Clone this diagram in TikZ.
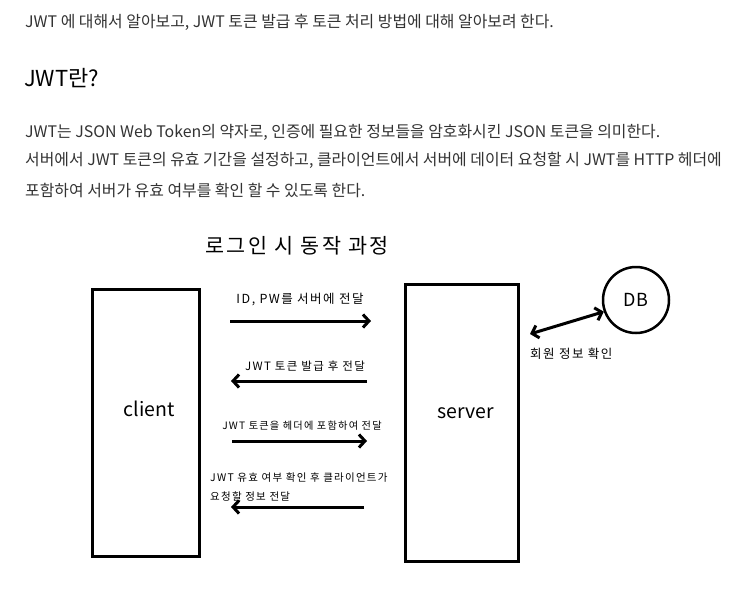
\documentclass[tikz,border=0pt]{standalone}
\usepackage{fontspec}
\setmainfont{Noto Sans CJK KR}
\newfontfamily\schemafont[LetterSpace=12]{Noto Sans CJK KR}
\usetikzlibrary{arrows.meta,positioning}
\definecolor{TxtGray}{HTML}{333333}

\begin{document}
\begin{tikzpicture}[x=1pt,y=-1pt,
  para/.style={anchor=west,inner sep=0pt,text=TxtGray,font=\fontsize{15.9}{18}\selectfont},
  box/.style={draw=black,line width=3pt},
  lbl/.style={inner sep=0pt,font=\schemafont\fontsize{12.5}{19}\selectfont},
  fleche/.style={-{Straight Barb[length=6pt,width=13pt,line width=3pt]},line width=3pt}]
  \useasboundingbox[fill=white] (0,0) rectangle (747,595);
  % texte du haut
  \node[para] (l1) at (25,22) {JWT 에 대해서 알아보고, JWT 토큰 발급 후 토큰 처리 방법에 대해 알아보려 한다.};
  \node[para,font=\fontsize{22}{24}\selectfont,text=black] (titre) at (24,78) {JWT란?};
  \node[para] (p1) at (25,132) {JWT는 JSON Web Token의 약자로, 인증에 필요한 정보들을 암호화시킨 JSON 토큰을 의미한다.};
  \node[para] (p2) at (25,160) {서버에서 JWT 토큰의 유효 기간을 설정하고, 클라이언트에서 서버에 데이터 요청할 시 JWT를 HTTP 헤더에};
  \node[para] (p3) at (25,190) {포함하여 서버가 유효 여부를 확인 할 수 있도록 한다.};
  % schema
  \node[inner sep=0pt,font=\schemafont\fontsize{20.7}{24}\selectfont] (schema) at (297,246) {로그인 시 동작 과정};
  \draw[box] (92,289) rectangle (199,556);
  \draw[box] (405,284) rectangle (518,561);
  \node[inner sep=0pt,font=\fontsize{19.5}{22}\selectfont] (client) at (149,409) {client};
  \node[inner sep=0pt,font=\fontsize{19.5}{22}\selectfont] (server) at (466,413) {server};
  \node[draw,line width=2.5pt,circle,minimum size=66pt,font=\fontsize{18}{22}\selectfont] (db) at (636,300) {DB};
  % fleches
  \coordinate (a1) at (230,321); \coordinate (b1) at (371,321);
  \coordinate (a2) at (367,381); \coordinate (b2) at (231,381);
  \coordinate (a3) at (232,441); \coordinate (b3) at (367,441);
  \coordinate (a4) at (364,507); \coordinate (b4) at (231,507);
  \coordinate (dbx) at (530,334);
  \draw[fleche] (a1) -- (b1);
  \draw[fleche] (a2) -- (b2);
  \draw[fleche] (a3) -- (b3);
  \draw[fleche] (a4) -- (b4);
  \draw[line width=3pt,{Straight Barb[length=6pt,width=13pt,line width=3pt]}-{Straight Barb[length=6pt,width=13pt,line width=3pt]}] (dbx) -- (db.200);
  \node[lbl] (t1) at (300,300) {ID, PW를 서버에 전달};
  \node[lbl,font=\schemafont\fontsize{11.5}{19}\selectfont] (t2) at (305,366) {JWT 토큰 발급 후 전달};
  \node[lbl,font=\schemafont\fontsize{10.2}{19}\selectfont] (t3) at (302,426) {JWT 토큰을 헤더에 포함하여 전달};
  \node[lbl,anchor=north west,align=left,font=\schemafont\fontsize{10.5}{19}\selectfont] (t4) at (210,473) {JWT 유효 여부 확인 후 클라이언트가\\요청할 정보 전달};
  \node[lbl,anchor=west] (t5) at (530,354) {회원 정보 확인};
\end{tikzpicture}
\end{document}
